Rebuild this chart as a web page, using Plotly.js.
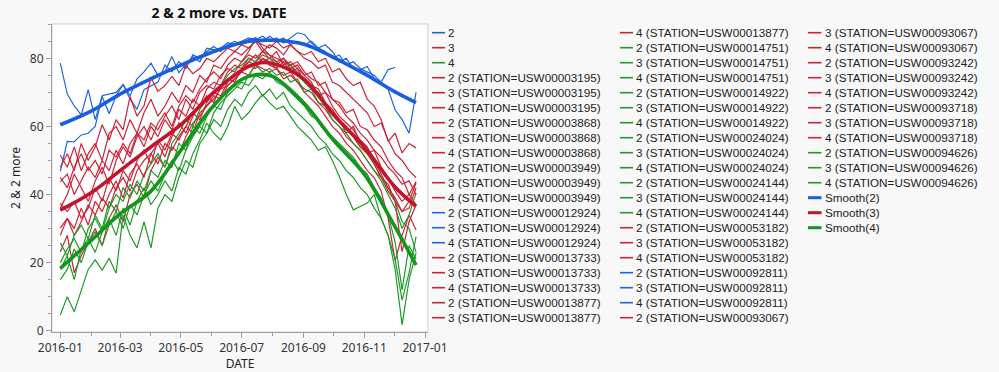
<!DOCTYPE html>
<html><head><meta charset="utf-8">
<script src="https://cdn.plot.ly/plotly-3.0.1.min.js"></script>
<style>html,body{margin:0;padding:0;background:#f8f8f8}#chart{width:999px;height:372px}</style>
</head><body><div id="chart"></div>
<script>
// ---------- DATA ----------
const dates = [
 '2016-01-01','2016-01-08','2016-01-15','2016-01-22','2016-01-29',
 '2016-02-05','2016-02-12','2016-02-19','2016-02-26',
 '2016-03-04','2016-03-11','2016-03-18','2016-03-25',
 '2016-04-01','2016-04-08','2016-04-15','2016-04-22','2016-04-29',
 '2016-05-06','2016-05-13','2016-05-20','2016-05-27',
 '2016-06-03','2016-06-10','2016-06-17','2016-06-24',
 '2016-07-01','2016-07-08','2016-07-15','2016-07-22','2016-07-29',
 '2016-08-05','2016-08-12','2016-08-19','2016-08-26',
 '2016-09-02','2016-09-09','2016-09-16','2016-09-23','2016-09-30',
 '2016-10-07','2016-10-14','2016-10-21','2016-10-28',
 '2016-11-04','2016-11-11','2016-11-18','2016-11-25',
 '2016-12-02','2016-12-09','2016-12-16','2016-12-23'];

const varNames = ['2','3','4'];
const stations = ['03195','03868','03949','12924','13733','13877','14751','14922',
                  '24024','24144','53182','92811','93067','93242','93718','94626'];
// which variable (0:'2' blue, 1:'3' red, 2:'4' green) each station's line belongs to
const stationVar = [1,1,1,0,1,1,2,2,2,2,1,0,1,1,1,2];

const s03195 = [51.6,48,54,47,52, 55,50,58,60, 56,62,58,64, 68,63,66,70,67, 72,70,75,73, 78,77,80,82, 81,83,85,82,84, 83,81,84,82, 80,79,77,78,73, 72,70,68,66, 64,60,61,56, 52,50,47,45];
const s03868 = [43.8,46,40,44,48, 45,50,47,53, 49,55,58,54, 60,57,62,59,65, 63,68,66,71, 73,72,76,78, 77,80,79,81,80, 78,80,77,78, 75,76,72,73,68, 67,64,65,60, 59,56,54,50, 47,45,40,43.8];
const s03949 = [37.4,35,38,33,36, 42,38,45,41, 47,44,50,53, 49,56,53,58,56, 60,64,62,67, 70,69,73,75, 76,79,78,80,79, 77,79,76,77, 73,71,70,66,64, 62,58,60,55, 52,53,48,45, 41,38,40,37];
const s12924 = [78.6,69.5,66,63.4,70.8, 62,69,69.5,70, 72.3,69,74,76, 78.6,75,76,80.5,75.8, 78,80.5,79,83, 82.5,83,84.6,84, 85,86,85.5,86.5,85, 86,84.5,86,87.5, 87,84.5,83,84,82, 79,80,77,76.7, 77.6,74,73,76.7, 77.3,null,null,null];
const s13733 = [30.1,33,28,32,37, 34,39,36,42, 45,41,47,50, 52,49,55,53,57, 60,58,64,66, 68,71,72,74, 76,75,78,77,76, 77,74,75,73, 71,70,67,65,62, 60,57,55,53, 50,47,45,41, 38,35,36,42];
const s13877 = [23.2,28,17,22,26, 30,25,33,37, 32,40,43,39, 47,51,48,54,52, 57,61,63,66, 69,68,72,74, 76,78,77,80,78, 77,75,76,73, 70,68,66,63,60, 58,55,53,50, 47,45,41,33, 20.5,28,34,29.6];
const s14751 = [25.8,22,28,31,27, 34,30,38,35, 42,39,44,41, 47,45,50,48,55, 53,60,58,63, 66,65,70,72, 71,75,78,76,77, 75,76,73,74, 70,71,67,66,62, 60,58,55,53, 50,47,44,40, 36,30,34,40.4];
const s14922 = [4.6,10,5.6,12,18, 20.8,17.8,21.3,16.9, 34,28,24.3,32, 24.3,36,40,38,45, 50,48,55,58, 62,60,65,68, 66,70,72,69,71, 68,70,66,64, 62,60,57,55,52, 50,47,45,42, 40,36,33,28, 18,1.7,15,22.8];
const s24024 = [18,22,15,24,27, 23,29,33,28, 36,31,38,42, 37,40,44,41,48, 46,52,56,61, 58,56,60,65.9, 62,64,67,69.3,67, 65,65.9,63,60, 58,56,53,54,50, 45.3,40,35.5,36.5, 37.5,40,33,28, 21,9,17,27.6];
const s24144 = [20,24,27,23,30, 33,29,36,40, 38,43,40,46, 49,52,48,55,58, 62,60,65,68, 70,72,75,77, 78,80,79,82,80, 79,77,78,75, 73,71,69,67,64, 62,59,57,54, 52,49,45,42, 38,32,30,23];
const s53182 = [36,40,46,42,38, 44,48,43,50, 54,51,57,60, 56,61,64,60,66, 69,67,71,74, 76,74,78,80, 79,82,86,83,81, 80,79,78,76, 74,72,71,67,65, 62,60,57,54, 52,49,45,43, 38,23.2,32,37];
const s92811 = [46.8,55.6,55.5,57.5,58, 60,68.8,63.7,69, 72.3,68,65,70.8, 72,73,78,76,79, 77,81,80,82, 83.5,82,84,85, 84,85.5,86,85,86.5, 85,86,84,85, 84,85,83,82,80, 81,78,79,77, 76,75,73,70.8, 64.9,62,58,70];
const s93067 = [48,52,47,55,50, 54,60.5,56,62, 59,68.8,63,66, 74.3,70.3,72,74.7,72, 78,75.5,77,80, 79,81,83,82, 84,83,85,84,83, 85,83,84,82, 81,82,79,80,76, 77,74,72,73, 68,66,62,55.6, 58,52.2,55,53.7];
const s93242 = [45,42,48,52,47, 50,46,53,51, 55,52,58,56, 61,59,63,66,62, 68,65,70,72, 71,75,77,76, 79,81,80,82,81, 79,80,78,79, 76,74,73,70,68, 66,63,61,58, 56,53,51,48, 46,43,44,40];
const s93718 = [28,33,30,36,31, 38,35,40,44, 39,46,49,45, 52,55,51,57,61, 58,63,66,69, 67,72,74,73, 77,79,81,79,80, 82,78,79,77, 75,73,69,70,66, 63,61,59,56, 54,50,46,42, 39,35,38,43.4];
const s94626 = [15,18,24,20,26, 29,25,31,35, 30,37,34,40, 44,41,46,50,47, 53,57,60,58, 64,67,69,71, 73,72,75,74,76, 73,72,70,68, 66,63,62,59,57, 55,53,51,48, 46,42,39,34, 26,12,25,21];
const stationValues = [s03195,s03868,s03949,s12924,s13733,s13877,s14751,s14922,
                       s24024,s24144,s53182,s92811,s93067,s93242,s93718,s94626];

const smoothDates = ['2016-01-01','2016-02-01','2016-03-01','2016-04-01','2016-05-01','2016-06-01',
                     '2016-07-01','2016-07-16','2016-08-01','2016-09-01','2016-10-01','2016-11-01',
                     '2016-12-01','2016-12-23'];
const smooth2 = [60.5,64.5,69.5,74,78,81.8,84.6,85.2,85.3,84.2,80.3,75.5,70.3,67];
const smooth3 = [35.4,40.5,47,54,60.5,69.5,76.5,78.5,78.5,74,63.5,54,42.5,36.5];
const smooth4 = [18.3,26.5,34.3,41,53,65.5,73.8,75.2,74.7,67,56,46,31,19.3];
const smoothValues = [smooth2, smooth3, smooth4];

// ---------- STYLE ----------
const varLineColors = ['rgb(30,100,225)','rgb(205,35,55)','rgb(30,155,40)'];
const smoothColors = ['rgb(25,95,220)','rgb(195,20,45)','rgb(20,150,30)'];
const FONT = 'Noto Sans, Open Sans, sans-serif';
const LEGFONT = 'Liberation Sans, Arial, sans-serif';

const H = 372, L = 52, T = 24, PW = 376, PH = 308;
const pxX = v => (v - L) / PW;
const pxY = v => (T + PH - v) / PH;

const traces = [];
stations.forEach((s, i) => {
  const v = stationVar[i];
  traces.push({
    x: dates, y: stationValues[i], type: 'scatter', mode: 'lines',
    name: varNames[v] + ' (STATION=USW000' + s + ')',
    line: {color: varLineColors[v], width: 1.2},
    showlegend: false, hoverinfo: 'skip'
  });
});
varNames.forEach((v, i) => {
  traces.push({
    x: smoothDates, y: smoothValues[i], type: 'scatter', mode: 'lines',
    name: 'Smooth(' + v + ')',
    line: {color: smoothColors[i], width: 3.6, shape: 'spline', smoothing: 1},
    showlegend: false, hoverinfo: 'skip'
  });
});

// ---------- CUSTOM LEGEND (3 columns) ----------
const entries = [];
varNames.forEach((v, i) => entries.push({t: v, c: varLineColors[i], w: 1.6}));
stations.forEach((s, i) => varNames.forEach(v =>
  entries.push({t: v + ' (STATION=USW000' + s + ')', c: varLineColors[stationVar[i]], w: 1.6})));
varNames.forEach((v, i) => entries.push({t: 'Smooth(' + v + ')', c: smoothColors[i], w: 3}));

const cols = [{lx0: 432, lx1: 445, tx: 447}, {lx0: 620, lx1: 633, tx: 635}, {lx0: 808, lx1: 821.5, tx: 824}];
const annotations = [], shapes = [];
entries.forEach((e, i) => {
  const col = i < 20 ? 0 : (i < 40 ? 1 : 2);
  const row = i < 20 ? i : (i < 40 ? i - 20 : i - 40);
  const yc = 32.7 + row * 15;
  const c = cols[col];
  shapes.push({type: 'line', xref: 'paper', yref: 'paper',
    x0: pxX(c.lx0), x1: pxX(c.lx1), y0: pxY(yc), y1: pxY(yc),
    line: {color: e.c, width: e.w}});
  annotations.push({xref: 'paper', yref: 'paper', x: pxX(c.tx), y: pxY(yc),
    xanchor: 'left', yanchor: 'middle', showarrow: false, text: e.t,
    borderpad: 0,
    font: {family: LEGFONT, size: 11.7, color: '#222'}});
});
// plot frame
shapes.push({type: 'rect', xref: 'paper', yref: 'paper', x0: 0, x1: 1, y0: 0, y1: 1,
  line: {color: '#cfcfcf', width: 1}, layer: 'below'});

const layout = {
  width: 999, height: 372,
  margin: {l: L, r: 999 - L - PW, t: T, b: H - T - PH, pad: 0},
  paper_bgcolor: '#f8f8f8', plot_bgcolor: '#ffffff',
  font: {family: FONT, size: 12, color: '#333'},
  showlegend: false,
  title: {text: '2 & 2 more vs. DATE', xref: 'container', yref: 'container',
    x: 219 / 999, xanchor: 'center', y: 1 - 13 / 372, yanchor: 'middle',
    font: {family: FONT, size: 14, color: '#111', weight: 700}},
  xaxis: {
    type: 'date', range: ['2015-12-23 16:00', '2017-01-04 00:00'],
    tick0: '2016-01-01', dtick: 'M2', tickformat: '%Y-%m',
    ticks: 'outside', ticklen: 5, tickcolor: '#a0a0a0', tickwidth: 1,
    minor: {dtick: 'M1', ticks: 'outside', ticklen: 3, tickcolor: '#a0a0a0', showgrid: false},
    showline: true, linecolor: '#a0a0a0', linewidth: 1, showgrid: false, zeroline: false,
    tickfont: {family: FONT, size: 12, color: '#333'},
    title: {text: 'DATE', standoff: 4, font: {family: FONT, size: 12, color: '#222'}}
  },
  yaxis: {
    range: [-0.38, 90.08], tick0: 0, dtick: 20,
    ticks: 'outside', ticklen: 5, tickcolor: '#a0a0a0', tickwidth: 1,
    minor: {dtick: 5, ticks: 'outside', ticklen: 3, tickcolor: '#a0a0a0', showgrid: false},
    showline: true, linecolor: '#a0a0a0', linewidth: 1, showgrid: false, zeroline: false,
    tickfont: {family: FONT, size: 12, color: '#333'},
    title: {text: '2 & 2 more', standoff: 6, font: {family: FONT, size: 12, color: '#222'}}
  },
  shapes: shapes,
  annotations: annotations
};

Plotly.newPlot('chart', traces, layout, {staticPlot: true, displayModeBar: false});
</script></body></html>
